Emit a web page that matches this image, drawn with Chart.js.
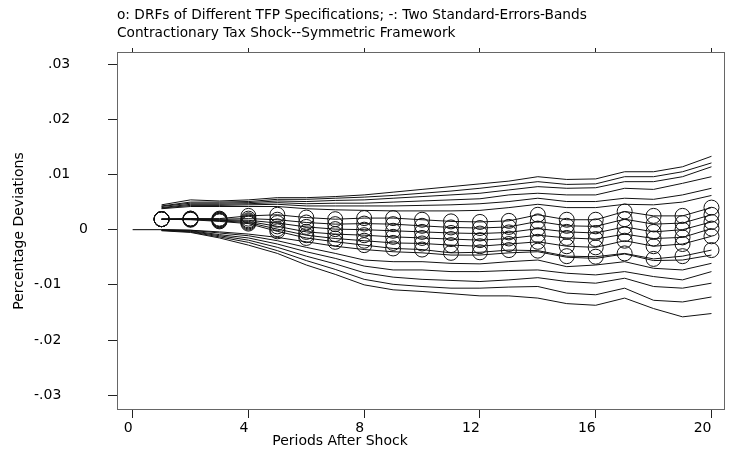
<!DOCTYPE html>
<html lang="en">
<head>
  <meta charset="UTF-8">
  <title>Contractionary Tax Shock</title>
  <script src="https://cdn.jsdelivr.net/npm/chart.js"></script>
  <style>
    html, body { margin: 0; padding: 0; background: #fff; }
    canvas { display: block; }
  </style>
</head>
<body>
  <canvas id="drfChart" width="733" height="454"></canvas>

  <script>
    // periods after shock
    const periods = [1, 2, 3, 4, 5, 6, 7, 8, 9, 10, 11, 12, 13, 14, 15, 16, 17, 18, 19, 20];
    const xTicks = [0, 4, 8, 12, 16, 20];
    const yTicks = [-0.03, -0.02, -0.01, 0, 0.01, 0.02, 0.03];
    const yLabels = ['-.03', '-.02', '-.01', '0', '.01', '.02', '.03'];

    // dynamic response functions (circles), one per TFP specification
    const drf1 = [.0019, .0020, .0020, .0025, .0027, .0022, .0019, .0021, .0021, .0018, .0015, .0014, .0016, .0027, .0018, .0018, .0033, .0025, .0025, .0040];
    const drf2 = [.0019, .0020, .0019, .0020, .0018, .0013, .0010, .0011, .0010, .0007, .0004, .0003, .0005, .0015, .0007, .0006, .0019, .0010, .0012, .0027];
    const drf3 = [.0019, .0019, .0018, .0017, .0012, .0005, .0001, .0000, -.0002, -.0004, -.0006, -.0007, -.0005, .0002, -.0004, -.0006, .0005, -.0004, .0000, .0014];
    const drf4 = [.0019, .0019, .0017, .0015, .0006, -.0004, -.0008, -.0010, -.0013, -.0015, -.0017, -.0019, -.0016, -.0010, -.0015, -.0017, -.0008, -.0016, -.0014, .0002];
    const drf5 = [.0019, .0019, .0016, .0013, .0001, -.0010, -.0016, -.0020, -.0024, -.0025, -.0028, -.0030, -.0026, -.0022, -.0030, -.0032, -.0020, -.0030, -.0026, -.0012];
    const drf6 = [.0019, .0018, .0015, .0011, -.0003, -.0015, -.0022, -.0028, -.0034, -.0036, -.0042, -.0041, -.0037, -.0038, -.0048, -.0049, -.0043, -.0053, -.0048, -.0037];

    // upper two standard-error bands
    const upper1 = [.0045, .0054, .0052, .0054, .0058, .0058, .0060, .0063, .0068, .0073, .0078, .0083, .0088, .0096, .0091, .0092, .0105, .0105, .0114, .0133];
    const upper2 = [.0043, .0050, .0050, .0051, .0055, .0055, .0057, .0059, .0062, .0066, .0070, .0075, .0081, .0087, .0082, .0083, .0096, .0096, .0105, .0121];
    const upper3 = [.0042, .0048, .0048, .0049, .0052, .0051, .0053, .0054, .0057, .0060, .0063, .0066, .0072, .0078, .0075, .0076, .0087, .0087, .0096, .0114];
    const upper4 = [.0040, .0046, .0046, .0047, .0049, .0047, .0048, .0048, .0050, .0052, .0054, .0056, .0063, .0066, .0063, .0063, .0075, .0073, .0084, .0096];
    const upper5 = [.0039, .0044, .0044, .0045, .0046, .0043, .0043, .0043, .0043, .0044, .0045, .0047, .0051, .0057, .0051, .0051, .0057, .0055, .0063, .0075];
    const upper6 = [.0038, .0042, .0042, .0042, .0042, .0038, .0036, .0035, .0034, .0034, .0034, .0035, .0040, .0046, .0040, .0040, .0046, .0045, .0050, .0062];

    // lower two standard-error bands
    const lower1 = [.0000, -.0001, -.0004, -.0008, -.0014, -.0022, -.0030, -.0036, -.0040, -.0042, -.0046, -.0046, -.0042, -.0040, -.0050, -.0052, -.0044, -.0056, -.0055, -.0046];
    const lower2 = [.0000, -.0001, -.0006, -.0011, -.0020, -.0032, -.0043, -.0055, -.0058, -.0058, -.0061, -.0062, -.0058, -.0055, -.0067, -.0064, -.0058, -.0070, -.0073, -.0061];
    const lower3 = [-.0001, -.0002, -.0009, -.0015, -.0026, -.0040, -.0052, -.0066, -.0073, -.0073, -.0076, -.0076, -.0074, -.0073, -.0079, -.0082, -.0076, -.0085, -.0091, -.0076];
    const lower4 = [-.0001, -.0003, -.0011, -.0019, -.0032, -.0048, -.0062, -.0078, -.0086, -.0090, -.0092, -.0094, -.0091, -.0087, -.0094, -.0097, -.0088, -.0103, -.0106, -.0097];
    const lower5 = [-.0001, -.0004, -.0013, -.0023, -.0038, -.0056, -.0072, -.0090, -.0099, -.0103, -.0106, -.0106, -.0104, -.0103, -.0115, -.0118, -.0106, -.0128, -.0131, -.0122];
    const lower6 = [-.0002, -.0005, -.0015, -.0028, -.0043, -.0064, -.0081, -.0100, -.0109, -.0112, -.0116, -.0120, -.0120, -.0124, -.0134, -.0137, -.0124, -.0143, -.0158, -.0152];

    // baseline before the shock hits
    const baseX = [0, 1];
    const baseY = [0, 0];

    const drfs = [drf1, drf2, drf3, drf4, drf5, drf6];
    const bands = [upper1, upper2, upper3, upper4, upper5, upper6, lower1, lower2, lower3, lower4, lower5, lower6];

    function toPoints(xs, ys) {
      return xs.map((x, i) => ({ x: x, y: ys[i] }));
    }

    const datasets = [];
    datasets.push({
      data: toPoints(baseX, baseY),
      borderColor: '#000',
      borderWidth: 1,
      pointRadius: 0
    });
    bands.forEach(b => {
      datasets.push({
        data: toPoints(periods, b),
        borderColor: '#111',
        borderWidth: 1,
        pointRadius: 0
      });
    });
    drfs.forEach(d => {
      datasets.push({
        data: toPoints(periods, d),
        borderColor: '#111',
        borderWidth: 1,
        pointRadius: 7.5,
        pointBorderWidth: 1,
        pointBorderColor: '#111',
        pointBackgroundColor: 'rgba(0,0,0,0)'
      });
    });

    const FONT = '"DejaVu Sans", Verdana, sans-serif';

    // titles drawn where Stata puts them
    const textPlugin = {
      id: 'stataText',
      afterDraw(chart) {
        const ctx = chart.ctx;
        ctx.save();
        ctx.fillStyle = '#000';
        ctx.font = '13.7px ' + FONT;
        ctx.textAlign = 'left';
        ctx.textBaseline = 'alphabetic';
        ctx.fillText('o: DRFs of Different TFP Specifications; -: Two Standard-Errors-Bands', 117, 19);
        ctx.fillText('Contractionary Tax Shock--Symmetric Framework', 117, 37);
        ctx.font = '14px ' + FONT;
        ctx.textAlign = 'center';
        ctx.fillText('Periods After Shock', 340, 445);
        ctx.translate(19, 231);
        ctx.rotate(-Math.PI / 2);
        ctx.textBaseline = 'middle';
        ctx.fillText('Percentage Deviations', 0, 0);
        ctx.restore();
      }
    };

    // Stata's odd label offsets: short labels sit further right
    function padLabel(s) {
      if (s === '0') return s;
      return s.length >= 4 ? s + '      ' : s + '    ';
    }

    const X_MIN = -0.54, X_MAX = 20.45;
    const Y_MIN = -0.0325, Y_MAX = 0.0322;

    new Chart(document.getElementById('drfChart'), {
      type: 'line',
      data: { datasets: datasets },
      plugins: [textPlugin],
      options: {
        responsive: false,
        animation: false,
        layout: { padding: { top: 52, right: 1, left: 0, bottom: 0 } },
        plugins: {
          legend: { display: false },
          tooltip: { enabled: false }
        },
        elements: { line: { tension: 0 } },
        scales: {
          x: {
            type: 'linear',
            position: 'bottom',
            min: X_MIN,
            max: X_MAX,
            afterBuildTicks: s => { s.ticks = xTicks.map(v => ({ value: v })); },
            afterFit: s => { s.height = 45; },
            grid: { drawOnChartArea: false, tickLength: 9, color: '#222' },
            border: { color: '#666', width: 1 },
            ticks: {
              align: 'end',
              padding: 2,
              color: '#000',
              font: { family: FONT, size: 14 },
              callback: v => String(v)
            }
          },
          x2: {
            type: 'linear',
            position: 'top',
            min: X_MIN,
            max: X_MAX,
            afterBuildTicks: s => { s.ticks = xTicks.map(v => ({ value: v })); },
            afterFit: s => { s.height = 0; },
            grid: { drawOnChartArea: false, tickLength: 4, color: '#222' },
            border: { color: '#666', width: 1 },
            ticks: { display: false }
          },
          y: {
            type: 'linear',
            position: 'left',
            min: Y_MIN,
            max: Y_MAX,
            afterBuildTicks: s => { s.ticks = yTicks.map(v => ({ value: v })); },
            afterFit: s => { s.width = 117; },
            grid: { drawOnChartArea: false, tickLength: 9, color: '#222' },
            border: { color: '#666', width: 1 },
            ticks: {
              padding: 20,
              color: '#000',
              font: { family: FONT, size: 14 },
              callback: (v) => {
                const i = yTicks.findIndex(t => Math.abs(t - v) < 1e-9);
                return i >= 0 ? padLabel(yLabels[i]) : '';
              }
            }
          },
          y2: {
            type: 'linear',
            position: 'right',
            min: Y_MIN,
            max: Y_MAX,
            afterFit: s => { s.width = 0; },
            grid: { drawOnChartArea: false, drawTicks: false },
            border: { color: '#666', width: 1 },
            ticks: { display: false }
          }
        }
      }
    });
  </script>
</body>
</html>
